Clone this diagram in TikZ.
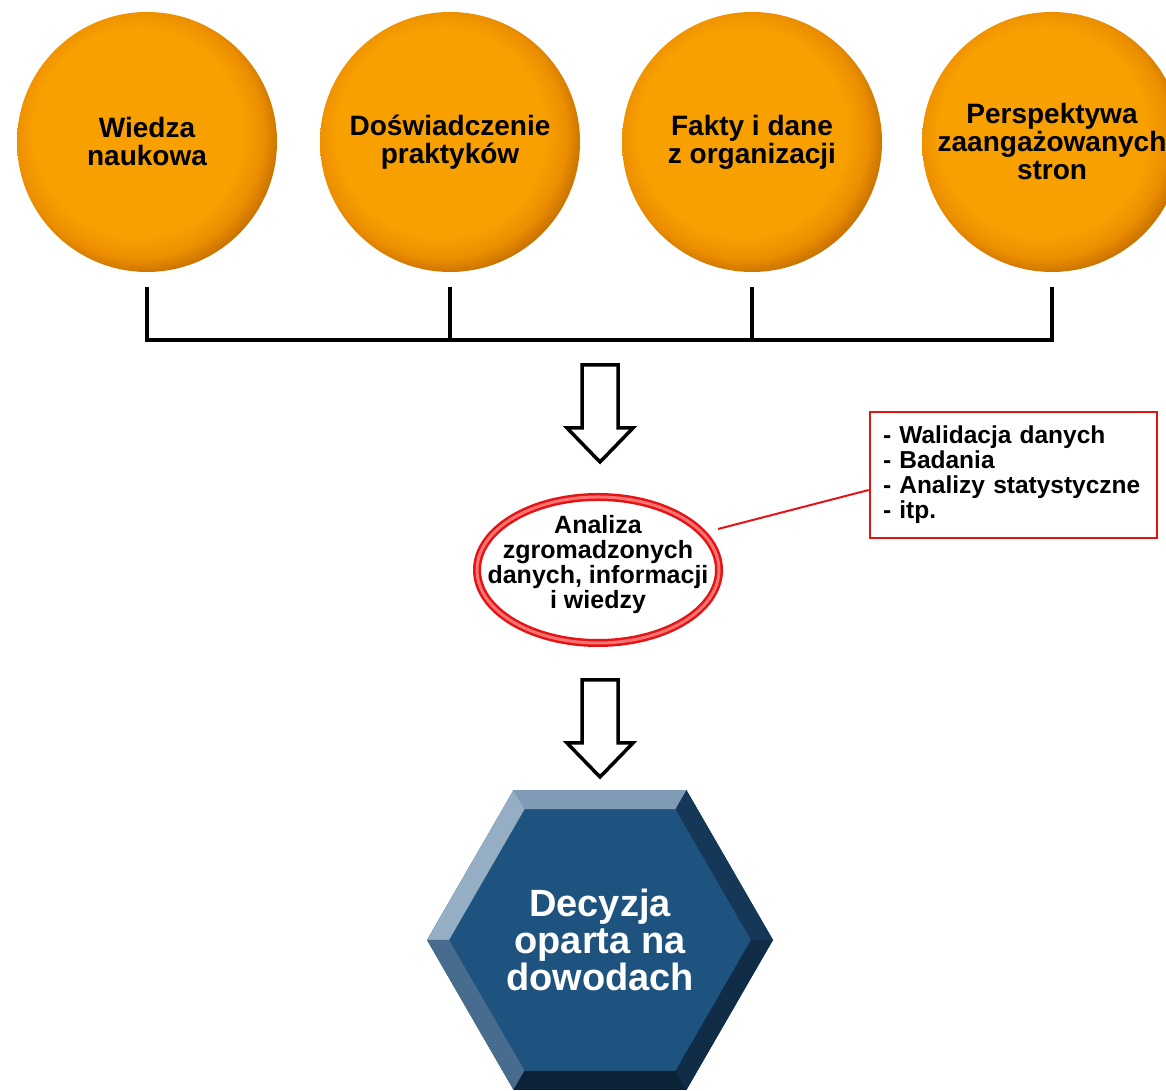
\documentclass[tikz,border=0pt]{standalone}
\usepackage{fontspec}
\setmainfont{Liberation Sans}
\usetikzlibrary{shapes.geometric, calc}

\definecolor{orC}{RGB}{248,160,0}
\definecolor{orM}{RGB}{236,142,0}
\definecolor{orD}{RGB}{186,102,0}
\definecolor{hexBody}{RGB}{30,83,128}
\definecolor{hexTop}{RGB}{128,155,182}
\definecolor{hexUL}{RGB}{150,174,196}
\definecolor{hexLL}{RGB}{72,108,142}
\definecolor{hexBot}{RGB}{12,34,54}
\definecolor{hexLR}{RGB}{16,44,70}
\definecolor{hexUR}{RGB}{22,56,88}
\definecolor{ramka}{RGB}{228,20,20}

\pgfdeclareradialshading{kula}{\pgfpoint{-3bp}{3bp}}{color(0bp)=(orC); color(20bp)=(orC); color(24bp)=(orM); color(28bp)=(orD); color(50bp)=(orD)}

\begin{document}
\begin{tikzpicture}[x=1pt, y=1pt,
    zrodlo/.style={circle, minimum size=260pt, inner sep=0pt, shading=kula,
      align=center, font=\fontsize{28}{28}\selectfont\bfseries},
    brk/.style={line width=4pt},
    hollow/.style={draw=black, fill=white, line width=3.5pt, line join=miter},
    redring/.style={ellipse, draw=ramka, double=red!55, double distance=3pt,
      line width=2.5pt, minimum width=242pt, minimum height=146pt, inner sep=0pt},
    notebox/.style={rectangle, draw=ramka, line width=2.5pt, text width=261pt,
      inner xsep=13pt, minimum height=126pt, align=left,
      font=\fontsize{24.5}{25}\selectfont\bfseries},
    hexagon/.style={regular polygon, regular polygon sides=6, inner sep=0pt,
      outer sep=0pt}]

  \fill[white] (0,0) rectangle (1166,1091);
  \useasboundingbox (0,0) rectangle (1166,1091);

  % zrodla wiedzy
  \node[zrodlo] (wiedza) at (147,949) {Wiedza\\naukowa};
  \node[zrodlo] (doswiadczenie) at (450,949) {Doświadczenie\\praktyków};
  \node[zrodlo] (fakty) at (752,949) {Fakty i dane\\z organizacji};
  \node[zrodlo] (perspektywa) at (1052,949) {Perspektywa\\zaangażowanych\\stron};

  \draw[brk] ([yshift=-15pt]wiedza.south) |- (600,751) coordinate (bar)
    -| ([yshift=-15pt]perspektywa.south);
  \draw[brk] ([yshift=-15pt]doswiadczenie.south) -- ++(0,-54);
  \draw[brk] ([yshift=-15pt]fakty.south) -- ++(0,-54);

  % strzalka 1
  \coordinate (s1) at ($(bar)+(0,-25)$);
  \draw[hollow] ($(s1)+(-18,0)$) -- ++(0,-63) -- ++(-15,0) -- ++(33,-34)
    -- ++(33,34) -- ++(-15,0) -- ++(0,63) -- cycle;

  \node[redring] (analiza) at (598,521) {};
  \node[align=center, font=\fontsize{25}{25}\selectfont\bfseries] (analizatxt)
    at ([yshift=5pt]analiza.center) {Analiza\\zgromadzonych\\danych, informacji\\i wiedzy};

  \node[notebox] (metody) at (1013.5,616) {- Walidacja danych\\- Badania\\- Analizy statystyczne\\- itp.};
  \draw[ramka, line width=2pt] ([shift={(120,41)}]analiza.center) -- ([yshift=-15pt]metody.west);

  % strzalka 2
  \coordinate (s2) at (600,411);
  \draw[hollow] ($(s2)+(-18,0)$) -- ++(0,-63) -- ++(-15,0) -- ++(33,-34)
    -- ++(33,34) -- ++(-15,0) -- ++(0,63) -- cycle;

  % decyzja
  \node[hexagon, minimum size=346pt, fill=hexBody] (hexout) at (600,151) {};
  \node[hexagon, minimum size=302pt] (hexin) at (600,151) {};
  \foreach \a/\b/\c in {1/2/hexTop, 2/3/hexUL, 3/4/hexLL, 4/5/hexBot, 5/6/hexLR, 6/1/hexUR}
    \fill[\c] (hexout.corner \a) -- (hexout.corner \b) -- (hexin.corner \b) -- (hexin.corner \a) -- cycle;
  \node[align=center, text=white, font=\fontsize{38}{37}\selectfont\bfseries] (decyzja) at (hexout)
    {Decyzja\\oparta na\\dowodach};
\end{tikzpicture}
\end{document}
